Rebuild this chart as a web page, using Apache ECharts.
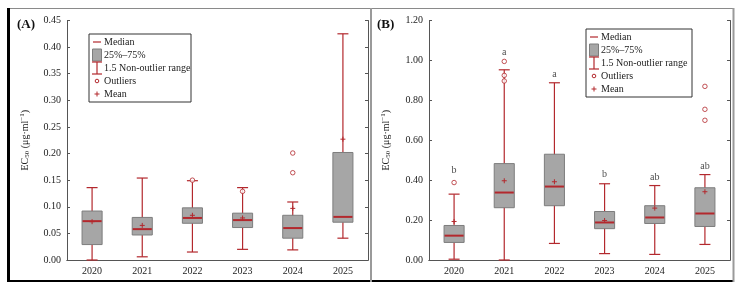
<!DOCTYPE html>
<html>
<head>
<meta charset="utf-8">
<script src="https://cdn.jsdelivr.net/npm/echarts@6/dist/echarts.min.js"></script>
<style>
  html, body { margin: 0; padding: 0; background: #fff; }
  #chart { width: 741px; height: 288px; }
</style>
</head>
<body>
<div id="chart"></div>
<script>
const years = ['2020', '2021', '2022', '2023', '2024', '2025'];

// Panel A: box statistics per year
const aLow = [0.000, 0.006, 0.015, 0.020, 0.019, 0.041];
const aQ1 = [0.029, 0.047, 0.069, 0.061, 0.041, 0.071];
const aMed = [0.073, 0.058, 0.079, 0.075, 0.060, 0.081];
const aQ3 = [0.092, 0.080, 0.098, 0.088, 0.084, 0.202];
const aHigh = [0.136, 0.154, 0.149, 0.136, 0.109, 0.425];
const aMean = [0.072, 0.065, 0.084, 0.079, 0.097, 0.227];
const aOutliers = [[2, 0.150], [3, 0.129], [4, 0.201], [4, 0.164]];

// Panel B
const bLow = [0.004, 0.000, 0.083, 0.032, 0.028, 0.078];
const bQ1 = [0.088, 0.262, 0.272, 0.157, 0.183, 0.168];
const bMed = [0.122, 0.338, 0.368, 0.188, 0.213, 0.233];
const bQ3 = [0.173, 0.483, 0.530, 0.243, 0.272, 0.362];
const bHigh = [0.330, 0.953, 0.888, 0.382, 0.373, 0.428];
const bMean = [0.193, 0.397, 0.392, 0.198, 0.260, 0.342];
const bOutliers = [[0, 0.388], [1, 0.995], [1, 0.925], [1, 0.897], [5, 0.870], [5, 0.755], [5, 0.700]];
const bLetters = ['b', 'a', 'a', 'b', 'ab', 'ab'];
const bLetterY = [0.447, 1.040, 0.930, 0.427, 0.415, 0.470];

const aTicks = { min: 0, max: 0.45, interval: 0.05 };
const bTicks = { min: 0, max: 1.2, interval: 0.2 };
const legendLabels = ['Median', '25%\u201375%', '1.5 Non-outlier range', 'Outliers', 'Mean'];

const FONT = 'Liberation Serif';
const RED = '#b3282d';
const BOX_FILL = '#a6a6a6';
const BOX_LINE = '#7d7d7d';
const AXIS = '#555';

const chart = echarts.init(document.getElementById('chart'), null, { renderer: 'canvas' });

const boxRows = (lo, q1, md, q3, hi, mn) => years.map((y, i) => [i, lo[i], q1[i], md[i], q3[i], hi[i], mn[i]]);

function renderBox(params, api) {
  const x = api.value(0);
  const pLow = api.coord([x, api.value(1)]);
  const pQ1 = api.coord([x, api.value(2)]);
  const pMed = api.coord([x, api.value(3)]);
  const pQ3 = api.coord([x, api.value(4)]);
  const pHigh = api.coord([x, api.value(5)]);
  const pMean = api.coord([x, api.value(6)]);
  const cx = pMed[0];
  const bw = api.size([1, 0])[0] * 0.4;
  const cap = 5.5;
  const redLine = { stroke: RED, lineWidth: 1.2 };
  return {
    type: 'group',
    children: [
      { type: 'line', shape: { x1: cx, y1: pLow[1], x2: cx, y2: pHigh[1] }, style: redLine },
      { type: 'line', shape: { x1: cx - cap, y1: pLow[1], x2: cx + cap, y2: pLow[1] }, style: redLine },
      { type: 'line', shape: { x1: cx - cap, y1: pHigh[1], x2: cx + cap, y2: pHigh[1] }, style: redLine },
      { type: 'rect', shape: { x: cx - bw / 2, y: pQ3[1], width: bw, height: pQ1[1] - pQ3[1] },
        style: { fill: BOX_FILL, stroke: BOX_LINE, lineWidth: 1 } },
      { type: 'line', shape: { x1: cx - bw / 2 + 0.5, y1: pMed[1], x2: cx + bw / 2 - 0.5, y2: pMed[1] },
        style: { stroke: RED, lineWidth: 2 } },
      { type: 'line', shape: { x1: cx - 2.5, y1: pMean[1], x2: cx + 2.5, y2: pMean[1] }, style: { stroke: RED, lineWidth: 1 } },
      { type: 'line', shape: { x1: cx, y1: pMean[1] - 2.5, x2: cx, y2: pMean[1] + 2.5 }, style: { stroke: RED, lineWidth: 1 } }
    ]
  };
}

const labelStyle = { fontFamily: FONT, fontSize: 10, color: '#222' };
const yName = 'EC{s|50} (\u03bcg\u00b7ml{p|\u22121})';
const yNameStyle = {
  fontFamily: FONT, fontSize: 10, color: '#222',
  rich: {
    s: { fontFamily: FONT, fontSize: 7, color: '#222', verticalAlign: 'bottom', lineHeight: 12 },
    p: { fontFamily: FONT, fontSize: 7, color: '#222', verticalAlign: 'top', lineHeight: 12 }
  }
};

function xAxes(gi) {
  return [
    {
      gridIndex: gi, type: 'category', data: years, position: 'bottom',
      axisLine: { lineStyle: { color: AXIS } },
      axisTick: { inside: true, alignWithLabel: true, length: 3, lineStyle: { color: AXIS } },
      axisLabel: { ...labelStyle, margin: 6 }
    },
    {
      gridIndex: gi, type: 'category', data: years, position: 'top',
      axisLine: { lineStyle: { color: AXIS } },
      axisTick: { inside: true, alignWithLabel: true, length: 3, lineStyle: { color: AXIS } },
      axisLabel: { show: false }
    }
  ];
}

function yAxes(gi, ticks, gap) {
  const base = { gridIndex: gi, type: 'value', min: ticks.min, max: ticks.max, interval: ticks.interval, splitLine: { show: false } };
  return [
    {
      ...base, position: 'left',
      name: yName, nameLocation: 'middle', nameGap: gap, nameRotate: 90, nameTextStyle: yNameStyle,
      axisLine: { show: true, lineStyle: { color: AXIS } },
      axisTick: { show: true, inside: true, length: 3, lineStyle: { color: AXIS } },
      axisLabel: { ...labelStyle, margin: 6, formatter: v => v.toFixed(2) }
    },
    {
      ...base, position: 'right',
      axisLine: { show: true, lineStyle: { color: AXIS } },
      axisTick: { show: true, inside: true, length: 3, lineStyle: { color: AXIS } },
      axisLabel: { show: false }
    }
  ];
}

function legendGroup(left, top, width) {
  const rowY = i => top + 8 + i * 13;
  const ix = left + 8;
  const tx = left + 15;
  const children = [
    { type: 'rect', shape: { x: left, y: top, width: width, height: 68 }, style: { fill: '#fff', stroke: '#333', lineWidth: 1 } },
    { type: 'line', shape: { x1: ix - 4, y1: rowY(0), x2: ix + 4, y2: rowY(0) }, style: { stroke: RED, lineWidth: 1.2 } },
    { type: 'rect', shape: { x: ix - 4.5, y: rowY(1) - 6, width: 9, height: 12 }, style: { fill: BOX_FILL, stroke: BOX_LINE, lineWidth: 1 } },
    { type: 'line', shape: { x1: ix, y1: rowY(2) - 6, x2: ix, y2: rowY(2) + 6 }, style: { stroke: RED, lineWidth: 1.2 } },
    { type: 'line', shape: { x1: ix - 5, y1: rowY(2) - 6, x2: ix + 5, y2: rowY(2) - 6 }, style: { stroke: RED, lineWidth: 1.2 } },
    { type: 'line', shape: { x1: ix - 5, y1: rowY(2) + 6, x2: ix + 5, y2: rowY(2) + 6 }, style: { stroke: RED, lineWidth: 1.2 } },
    { type: 'circle', shape: { cx: ix, cy: rowY(3), r: 1.8 }, style: { fill: '#fff', stroke: RED, lineWidth: 1 } },
    { type: 'line', shape: { x1: ix - 2.5, y1: rowY(4), x2: ix + 2.5, y2: rowY(4) }, style: { stroke: RED, lineWidth: 1 } },
    { type: 'line', shape: { x1: ix, y1: rowY(4) - 2.5, x2: ix, y2: rowY(4) + 2.5 }, style: { stroke: RED, lineWidth: 1 } }
  ];
  legendLabels.forEach((t, i) => {
    children.push({
      type: 'text', x: tx, y: rowY(i),
      style: { text: t, fontFamily: FONT, fontSize: 10, fill: '#222', verticalAlign: 'middle', align: 'left' }
    });
  });
  return { type: 'group', z: 100, children };
}

function frameLine(x1, y1, x2, y2, color, w) {
  return { type: 'line', z: 90, shape: { x1, y1, x2, y2 }, style: { stroke: color, lineWidth: w } };
}

const option = {
  animation: false,
  backgroundColor: '#fff',
  grid: [
    { left: 67, top: 20.5, width: 301, height: 239.5 },
    { left: 429, top: 20.5, width: 301, height: 239.5 }
  ],
  xAxis: [...xAxes(0), ...xAxes(1)],
  yAxis: [...yAxes(0, aTicks, 36), ...yAxes(1, bTicks, 37)],
  series: [
    {
      type: 'custom', xAxisIndex: 0, yAxisIndex: 0, renderItem: renderBox,
      encode: { x: 0, y: [1, 2, 3, 4, 5, 6] },
      data: boxRows(aLow, aQ1, aMed, aQ3, aHigh, aMean), clip: false
    },
    {
      type: 'scatter', xAxisIndex: 0, yAxisIndex: 0, data: aOutliers,
      symbol: 'circle', symbolSize: 4.5, z: 5,
      itemStyle: { color: '#fff', borderColor: RED, borderWidth: 1 }
    },
    {
      type: 'custom', xAxisIndex: 2, yAxisIndex: 2, renderItem: renderBox,
      encode: { x: 0, y: [1, 2, 3, 4, 5, 6] },
      data: boxRows(bLow, bQ1, bMed, bQ3, bHigh, bMean), clip: false
    },
    {
      type: 'scatter', xAxisIndex: 2, yAxisIndex: 2, data: bOutliers,
      symbol: 'circle', symbolSize: 4.5, z: 5,
      itemStyle: { color: '#fff', borderColor: RED, borderWidth: 1 }
    },
    {
      type: 'scatter', xAxisIndex: 2, yAxisIndex: 2,
      data: years.map((y, i) => [i, bLetterY[i]]),
      symbolSize: 0, silent: true,
      label: {
        show: true, position: 'inside', fontFamily: FONT, fontSize: 10, color: '#222',
        formatter: p => bLetters[p.dataIndex]
      }
    }
  ],
  graphic: [
    frameLine(8, 8.5, 734, 8.5, '#8a8a8a', 1),
    frameLine(8.5, 8, 8.5, 282, '#000', 3),
    frameLine(8, 281, 734, 281, '#000', 2),
    frameLine(733.5, 8, 733.5, 282, '#9a9a9a', 2),
    frameLine(371, 8, 371, 282, '#9a9a9a', 2),
    { type: 'text', x: 17, y: 25, z: 100, style: { text: '(A)', fontFamily: FONT, fontSize: 13, fontWeight: 'bold', fill: '#111', verticalAlign: 'middle' } },
    { type: 'text', x: 377, y: 25, z: 100, style: { text: '(B)', fontFamily: FONT, fontSize: 13, fontWeight: 'bold', fill: '#111', verticalAlign: 'middle' } },
    legendGroup(89, 34, 102),
    legendGroup(586, 29, 106)
  ]
};

chart.setOption(option);
</script>
</body>
</html>
